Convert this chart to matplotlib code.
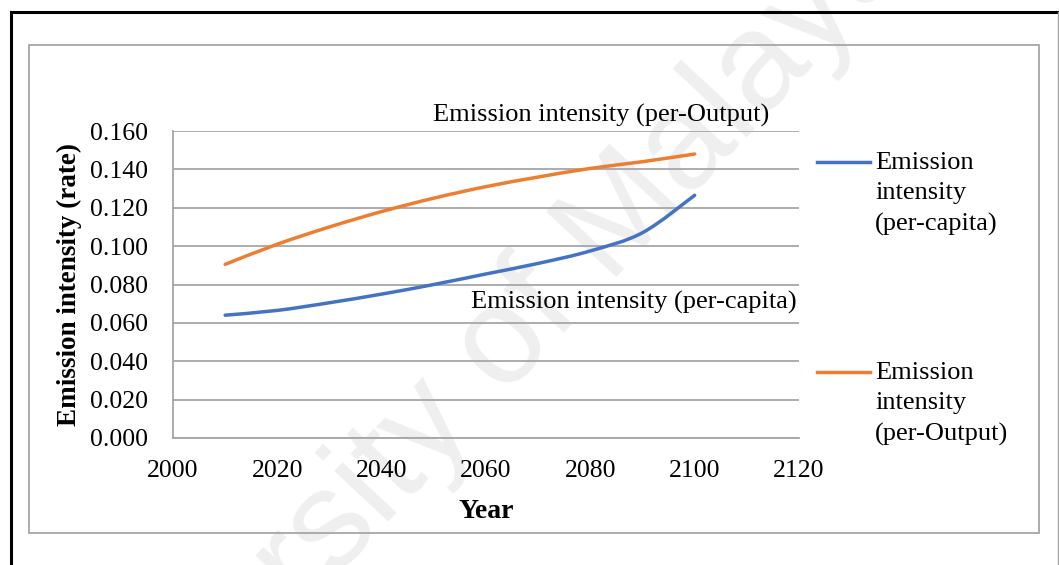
import matplotlib.pyplot as plt
from matplotlib.lines import Line2D
from matplotlib.patches import Rectangle, PathPatch
from matplotlib.path import Path

years = [2010, 2020, 2030, 2040, 2050, 2060, 2070, 2080, 2090, 2100]
per_capita = [0.064, 0.0665, 0.0705, 0.075, 0.080, 0.0855, 0.091, 0.0975, 0.107, 0.1265]
per_output = [0.0905, 0.101, 0.110, 0.118, 0.125, 0.131, 0.136, 0.1405, 0.144, 0.148]
series_names = ["Emission intensity (per-capita)", "Emission intensity (per-Output)"]
legend_labels = ["Emission\nintensity\n(per-capita)", "Emission\nintensity\n(per-Output)"]
colors = ["#4472c4", "#ed7d31"]

plt.rcParams['font.family'] = ['Liberation Serif', 'DejaVu Serif']

fig = plt.figure(figsize=(10.59, 5.65), dpi=100)
W, H = 1059, 565

def fx(px):
    return px / W

def fy(py):
    return 1 - py / H

def smooth_path(xs, ys):
    # spreadsheet-style smoothed line: cubic bezier through every point
    pts = list(zip(xs, ys))
    n = len(pts)
    verts = [pts[0]]
    codes = [Path.MOVETO]
    for i in range(n - 1):
        p0 = pts[max(i - 1, 0)]
        p1 = pts[i]
        p2 = pts[i + 1]
        p3 = pts[min(i + 2, n - 1)]
        c1 = (p1[0] + (p2[0] - p0[0]) / 6, p1[1] + (p2[1] - p0[1]) / 6)
        c2 = (p2[0] - (p3[0] - p1[0]) / 6, p2[1] - (p3[1] - p1[1]) / 6)
        verts += [c1, c2, p2]
        codes += [Path.CURVE4] * 3
    return Path(verts, codes)

# outer black frame and inner grey chart box
fig.add_artist(Line2D([fx(11), fx(11)], [fy(12), 0], color='black', lw=2.2))
fig.add_artist(Line2D([fx(11), 1], [fy(12), fy(12)], color='black', lw=2.2))
fig.add_artist(Line2D([fx(1058), fx(1058)], [fy(12), 0], color='#a0a0a0', lw=1))
fig.add_artist(Rectangle((fx(29), fy(533)), fx(1039 - 29), (533 - 45) / H,
                         fill=False, edgecolor='#a6a6a6', lw=1.3))

# watermark
fig.text(fx(462), fy(390), "University of Malaya", fontsize=100, family='Liberation Sans',
         color='#efefef', rotation=47, ha='center', va='center', zorder=-1)

ax = fig.add_axes([fx(173), fy(438), fx(799 - 173), (438 - 131) / H])
ax.patch.set_alpha(0)
for ys, c in zip([per_capita, per_output], colors):
    ax.add_patch(PathPatch(smooth_path(years, ys), fill=False, edgecolor=c, lw=2.5,
                           capstyle='round', joinstyle='round'))

ax.set_xlim(2000, 2120)
ax.set_ylim(0, 0.16)
ax.set_xticks(range(2000, 2121, 20))
ax.set_yticks([i * 0.02 for i in range(9)])
ax.set_yticklabels([f"{i * 0.02:.3f}" for i in range(9)])
ax.tick_params(length=0, labelsize=18.5)
ax.tick_params(axis='y', pad=18)
ax.tick_params(axis='x', pad=16)
ax.grid(axis='y', color='#a6a6a6', lw=1.3)
ax.set_axisbelow(True)
for side in ['top', 'right']:
    ax.spines[side].set_visible(False)
for side in ['left', 'bottom']:
    ax.spines[side].set_color('#a6a6a6')
    ax.spines[side].set_linewidth(1.3)

ax.set_xlabel("Year", fontsize=20, fontweight='bold')
ax.xaxis.set_label_coords(0.5, -0.2)
ax.set_ylabel("Emission intensity (rate)", fontsize=19.5, fontweight='bold')
ax.yaxis.set_label_coords(-0.145, 0.5)

# series name labels near the lines
ax.text(2082, 0.168, series_names[1], fontsize=19, ha='center', va='center')
ax.text(2088.3, 0.0705, series_names[0], fontsize=19, ha='center', va='center')

# legend drawn by hand so the key sits beside the first text line
for i, ytop in enumerate([162, 372]):
    fig.add_artist(Line2D([fx(817), fx(870)], [fy(ytop), fy(ytop)], color=colors[i], lw=2.5))
    fig.text(fx(875), fy(ytop - 10), legend_labels[i], fontsize=19, ha='left', va='top',
             linespacing=1.5)

fig.savefig("out.png", dpi=100)
